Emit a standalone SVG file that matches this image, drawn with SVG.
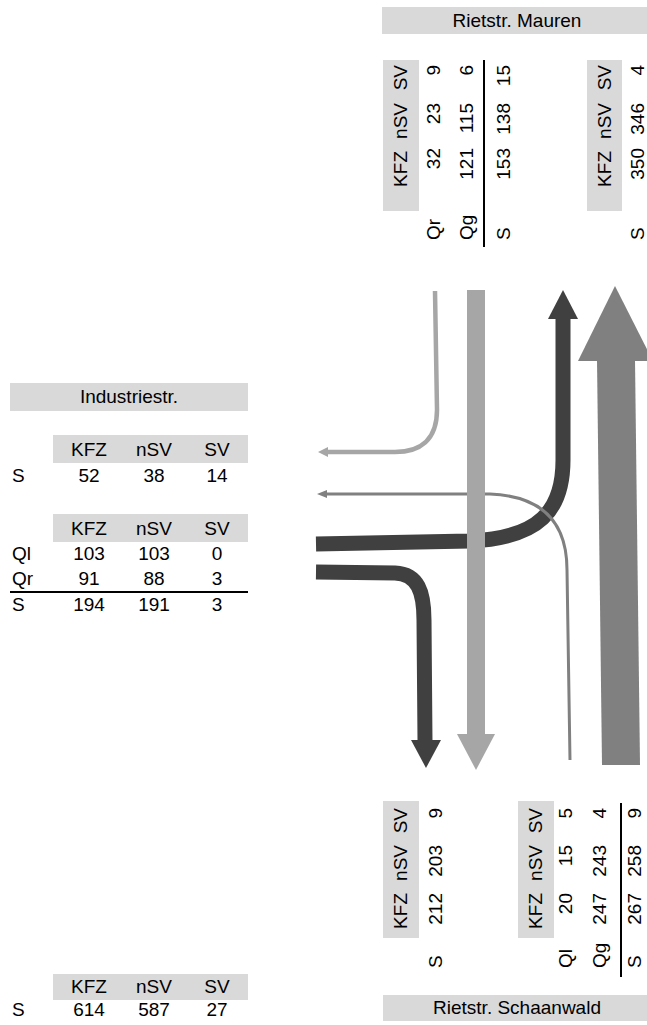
<svg xmlns="http://www.w3.org/2000/svg" width="647" height="1025" viewBox="0 0 647 1025">
<style>
text{font-family:"Liberation Sans",Arial,sans-serif;font-size:19px;fill:#000}
.c{text-anchor:middle}
.e{text-anchor:end}
.hb{fill:#d9d9d9}
.ln{stroke:#000;stroke-width:2}
.dk{fill:none;stroke:#404040;stroke-width:15}
.lt{fill:none;stroke:#a6a6a6}
.md{fill:none;stroke:#808080}
</style>
<rect width="647" height="1025" fill="#fff"/>

<g id="connectors">
  <polygon points="597,360 635,360 640,765 602,765" fill="#808080"/>
  <polygon points="578,361 615,286 653,361" fill="#808080"/>
  <path class="lt" stroke-width="4.5" d="M435,291 L437,410 C437,440 420,452 395,452 L326,452"/>
  <polygon points="318,452 328,447 328,457" fill="#a6a6a6"/>
  <path class="dk" d="M316,544 L470,541 C540,538 563,510 563,460 L563,318"/>
  <polygon points="548,319 578,319 563,290" fill="#404040"/>
  <path class="dk" d="M316,572 L395,573 C418,574 424,592 424,620 L425,741"/>
  <polygon points="411,740 441,740 426,768" fill="#404040"/>
  <path class="md" stroke-width="3" d="M325,494 L490,494 C540,496 567,520 567,570 L570,760"/>
  <polygon points="317,494 327,490 327,498" fill="#808080"/>
  <rect x="467" y="290" width="18" height="445" fill="#a6a6a6"/>
  <polygon points="457,734 495,734 476,770" fill="#a6a6a6"/>
</g>

<g id="road-mauren">
  <rect class="hb" x="382" y="7" width="265" height="27"/>
  <text class="c" x="517" y="27">Rietstr. Mauren</text>
</g>

<g id="table-mauren-in">
  <rect class="hb" x="383" y="60" width="36" height="151"/>
  <text class="e" transform="rotate(-90 407 65)" x="407" y="65">SV</text>
  <text class="e" transform="rotate(-90 407 103)" x="407" y="103">nSV</text>
  <text class="e" transform="rotate(-90 407 151)" x="407" y="151">KFZ</text>
  <text class="e" transform="rotate(-90 440 65)" x="440" y="65">9</text>
  <text class="e" transform="rotate(-90 440 103)" x="440" y="103">23</text>
  <text class="e" transform="rotate(-90 440 148)" x="440" y="148">32</text>
  <text transform="rotate(-90 440 240)" x="440" y="240">Qr</text>
  <text class="e" transform="rotate(-90 473 65)" x="473" y="65">6</text>
  <text class="e" transform="rotate(-90 473 103)" x="473" y="103">115</text>
  <text class="e" transform="rotate(-90 473 148)" x="473" y="148">121</text>
  <text transform="rotate(-90 473 240)" x="473" y="240">Qg</text>
  <line class="ln" x1="484" y1="60" x2="484" y2="247"/>
  <text class="e" transform="rotate(-90 510 65)" x="510" y="65">15</text>
  <text class="e" transform="rotate(-90 510 103)" x="510" y="103">138</text>
  <text class="e" transform="rotate(-90 510 148)" x="510" y="148">153</text>
  <text transform="rotate(-90 510 240)" x="510" y="240">S</text>
</g>

<g id="table-mauren-out">
  <rect class="hb" x="587" y="60" width="35" height="151"/>
  <text class="e" transform="rotate(-90 611 65)" x="611" y="65">SV</text>
  <text class="e" transform="rotate(-90 611 103)" x="611" y="103">nSV</text>
  <text class="e" transform="rotate(-90 611 151)" x="611" y="151">KFZ</text>
  <text class="e" transform="rotate(-90 644 65)" x="644" y="65">4</text>
  <text class="e" transform="rotate(-90 644 103)" x="644" y="103">346</text>
  <text class="e" transform="rotate(-90 644 148)" x="644" y="148">350</text>
  <text transform="rotate(-90 644 240)" x="644" y="240">S</text>
</g>

<g id="road-industrie">
  <rect class="hb" x="10" y="383" width="238" height="28"/>
  <text class="c" x="129" y="403">Industriestr.</text>
</g>

<g id="table-industrie-out">
  <rect class="hb" x="53" y="435" width="195" height="28"/>
  <text class="c" x="89" y="456">KFZ</text>
  <text class="c" x="154" y="456">nSV</text>
  <text class="c" x="217" y="456">SV</text>
  <text x="12" y="482">S</text>
  <text class="c" x="89" y="482">52</text>
  <text class="c" x="154" y="482">38</text>
  <text class="c" x="217" y="482">14</text>
</g>

<g id="table-industrie-in">
  <rect class="hb" x="53" y="514" width="195" height="28"/>
  <text class="c" x="89" y="535">KFZ</text>
  <text class="c" x="154" y="535">nSV</text>
  <text class="c" x="217" y="535">SV</text>
  <text x="12" y="560">Ql</text>
  <text class="c" x="89" y="560">103</text>
  <text class="c" x="154" y="560">103</text>
  <text class="c" x="217" y="560">0</text>
  <text x="12" y="585">Qr</text>
  <text class="c" x="89" y="585">91</text>
  <text class="c" x="154" y="585">88</text>
  <text class="c" x="217" y="585">3</text>
  <line class="ln" x1="10" y1="592" x2="248" y2="592"/>
  <text x="12" y="611">S</text>
  <text class="c" x="89" y="611">194</text>
  <text class="c" x="154" y="611">191</text>
  <text class="c" x="217" y="611">3</text>
</g>

<g id="table-schaanwald-out">
  <rect class="hb" x="383" y="801" width="36" height="137"/>
  <text class="e" transform="rotate(-90 407 808)" x="407" y="808">SV</text>
  <text class="e" transform="rotate(-90 407 845)" x="407" y="845">nSV</text>
  <text class="e" transform="rotate(-90 407 893)" x="407" y="893">KFZ</text>
  <text class="e" transform="rotate(-90 442 808)" x="442" y="808">9</text>
  <text class="e" transform="rotate(-90 442 845)" x="442" y="845">203</text>
  <text class="e" transform="rotate(-90 442 893)" x="442" y="893">212</text>
  <text transform="rotate(-90 442 968)" x="442" y="968">S</text>
</g>

<g id="table-schaanwald-in">
  <rect class="hb" x="518" y="801" width="36" height="137"/>
  <text class="e" transform="rotate(-90 542 808)" x="542" y="808">SV</text>
  <text class="e" transform="rotate(-90 542 845)" x="542" y="845">nSV</text>
  <text class="e" transform="rotate(-90 542 893)" x="542" y="893">KFZ</text>
  <text class="e" transform="rotate(-90 572 808)" x="572" y="808">5</text>
  <text class="e" transform="rotate(-90 572 845)" x="572" y="845">15</text>
  <text class="e" transform="rotate(-90 572 893)" x="572" y="893">20</text>
  <text transform="rotate(-90 572 968)" x="572" y="968">Ql</text>
  <text class="e" transform="rotate(-90 606 808)" x="606" y="808">4</text>
  <text class="e" transform="rotate(-90 606 845)" x="606" y="845">243</text>
  <text class="e" transform="rotate(-90 606 893)" x="606" y="893">247</text>
  <text transform="rotate(-90 606 968)" x="606" y="968">Qg</text>
  <line class="ln" x1="621" y1="803" x2="621" y2="977"/>
  <text class="e" transform="rotate(-90 641 808)" x="641" y="808">9</text>
  <text class="e" transform="rotate(-90 641 845)" x="641" y="845">258</text>
  <text class="e" transform="rotate(-90 641 893)" x="641" y="893">267</text>
  <text transform="rotate(-90 641 968)" x="641" y="968">S</text>
</g>

<g id="road-schaanwald">
  <rect class="hb" x="383" y="995" width="264" height="26"/>
  <text class="c" x="517" y="1014">Rietstr. Schaanwald</text>
</g>

<g id="table-total">
  <rect class="hb" x="53" y="974" width="195" height="26"/>
  <text class="c" x="89" y="993">KFZ</text>
  <text class="c" x="154" y="993">nSV</text>
  <text class="c" x="217" y="993">SV</text>
  <text x="12" y="1016">S</text>
  <text class="c" x="89" y="1016">614</text>
  <text class="c" x="154" y="1016">587</text>
  <text class="c" x="217" y="1016">27</text>
</g>
</svg>
